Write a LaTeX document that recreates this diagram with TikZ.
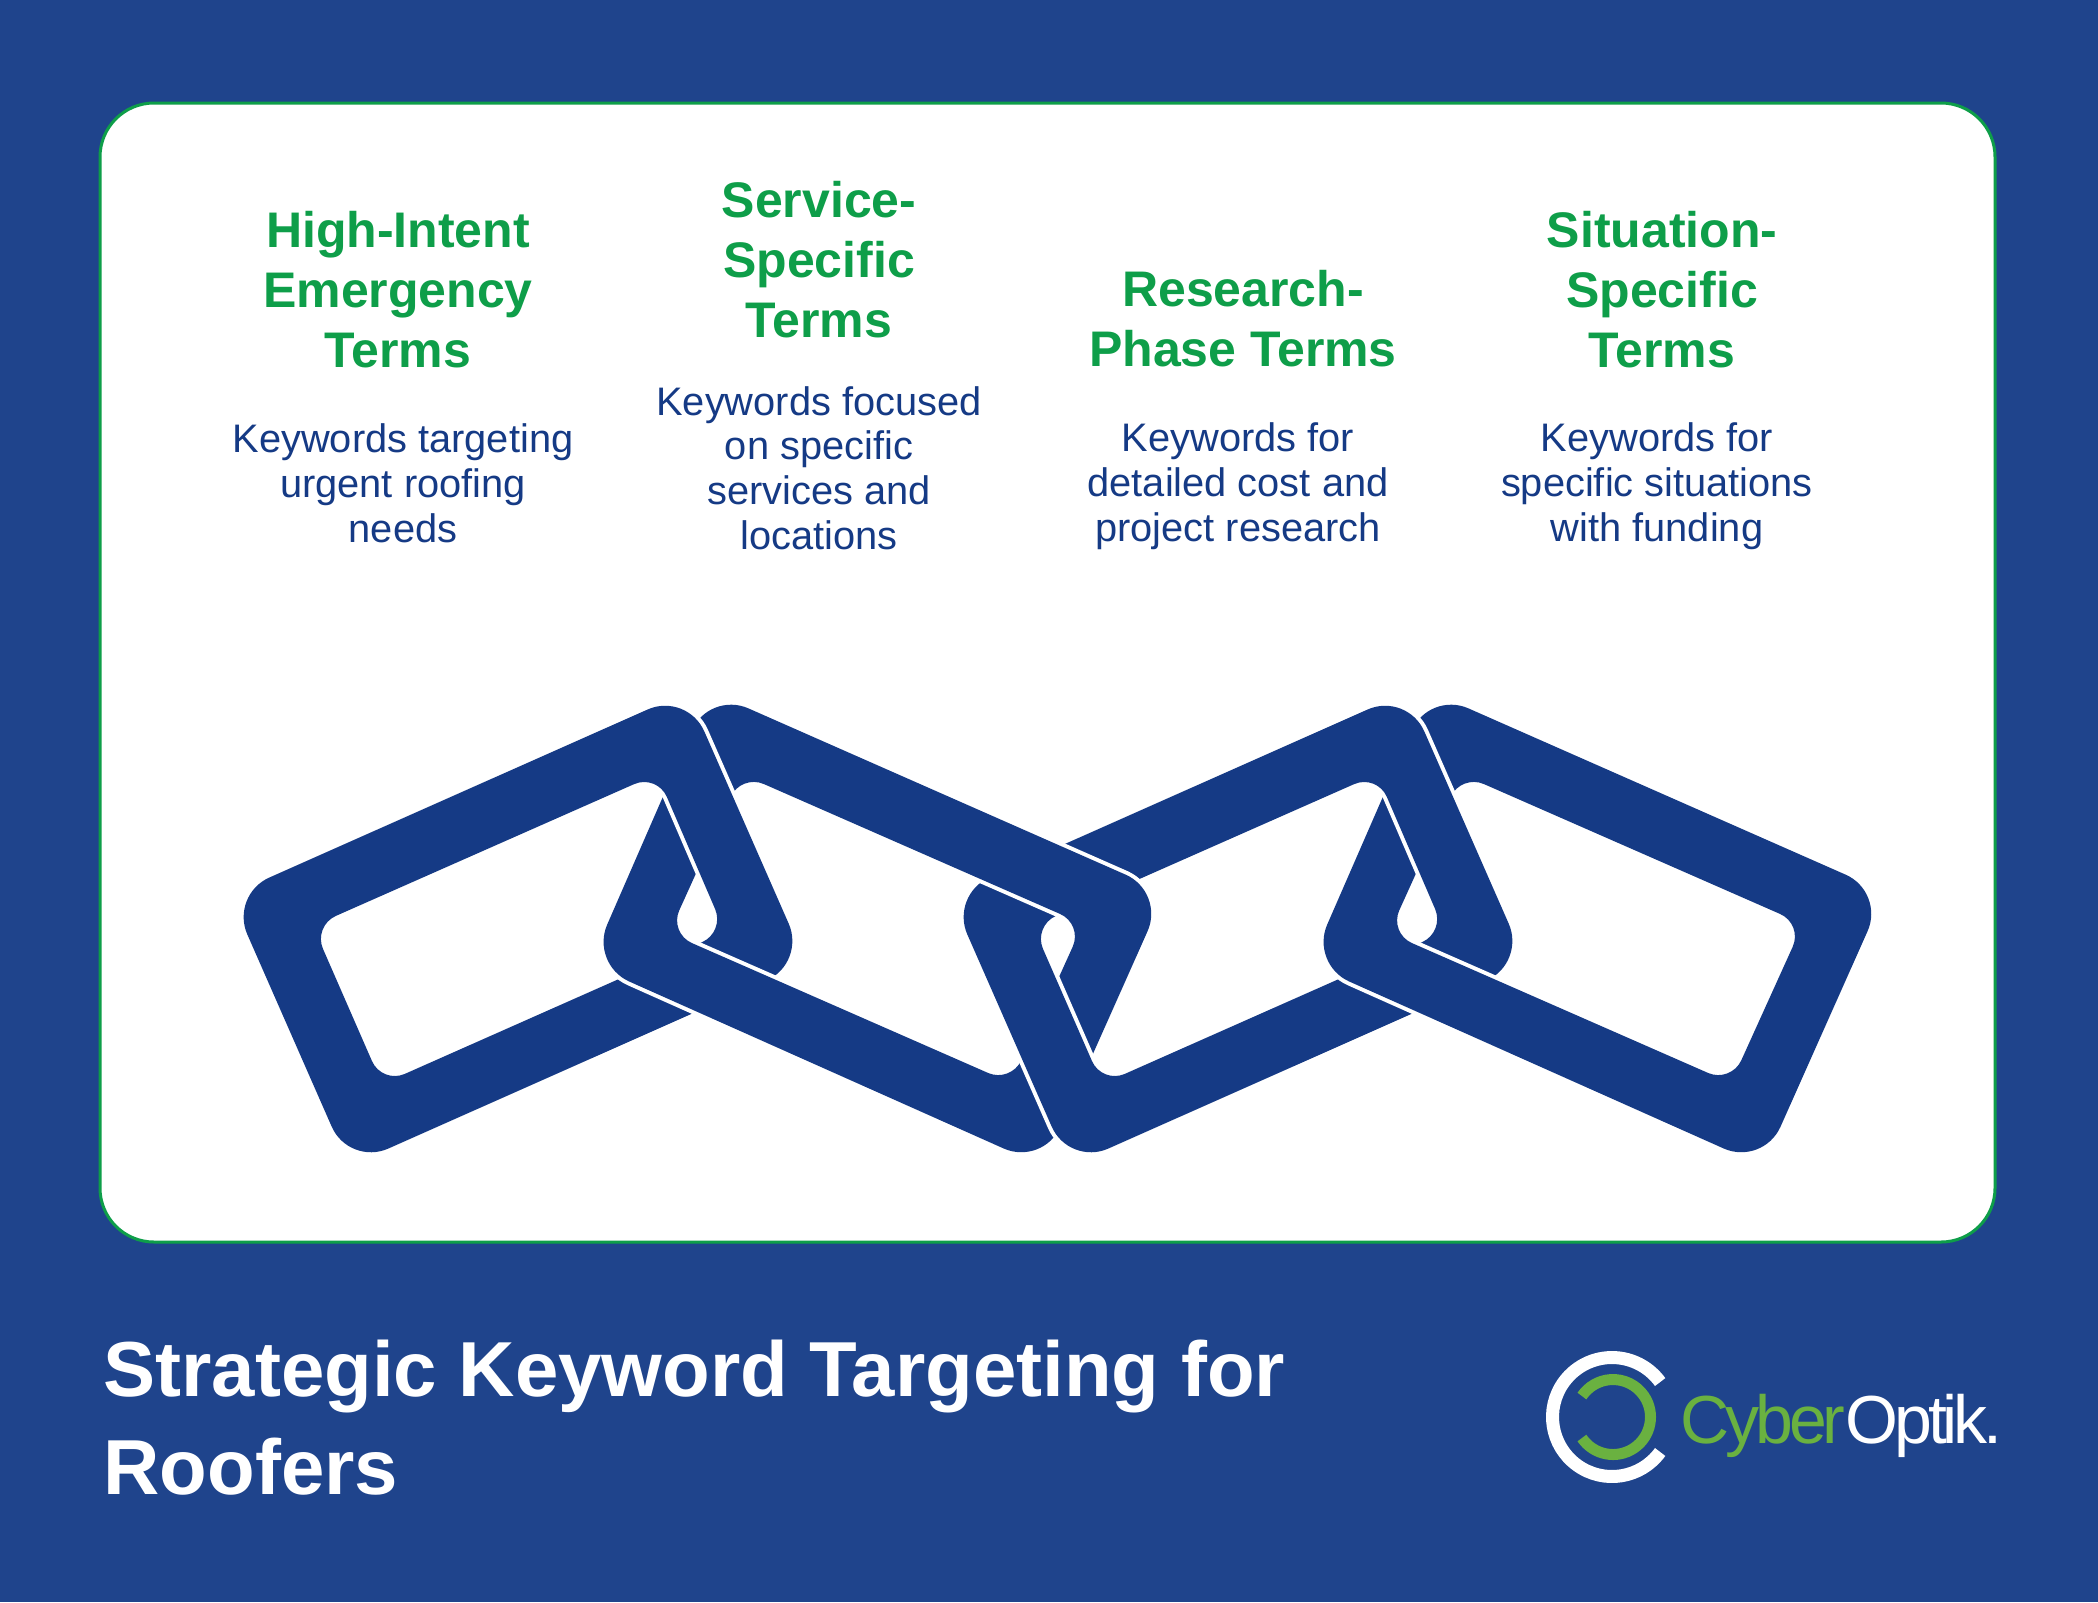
\documentclass[tikz,border=0pt]{standalone}
\usepackage{fontspec}
\setmainfont{Liberation Sans}
\newfontfamily\logofont[LetterSpace=-6]{Liberation Sans}
\definecolor{bluebg}{HTML}{1F448C}
\definecolor{chainblue}{HTML}{153A85}
\definecolor{headgreen}{HTML}{0E9E49}
\definecolor{logogreen}{HTML}{6AB140}
% the two kinds of link, outer edge then hole
\newcommand{\linkup}{[rounded corners=21.5pt] (230,895) -- (687,692) -- (806,963) -- (349,1166) -- cycle
	[rounded corners=12.5pt] (313,926) -- (657,774) -- (725,932) -- (382,1084) -- cycle}
\newcommand{\linkdown}{[rounded corners=21.5pt] (709,691) -- (1165,892) -- (1043,1166) -- (590,964) -- cycle
	[rounded corners=12.5pt] (741,774) -- (1083,924) -- (1011,1083) -- (669,933) -- cycle}

\begin{document}
\begin{tikzpicture}[x=0.5pt,y=-0.5pt]
	\tikzstyle{head}=[align=center,text=headgreen,font=\fontsize{25}{30}\selectfont\bfseries,inner sep=0pt]
	\tikzstyle{body}=[align=center,text=chainblue,font=\fontsize{19.9}{22.4}\selectfont,inner sep=0pt]
	\tikzstyle{chain}=[fill=chainblue,even odd rule]
	\tikzstyle{halo}=[chain,preaction={draw=white,line width=4pt}]

	\fill [bluebg] (0,0) rectangle (2098,1602);
	\useasboundingbox (0,0) rectangle (2098,1602);
	\draw [fill=white,draw=headgreen,line width=1.5pt,rounded corners=27pt] (100,103) rectangle (1995,1242);

	\node [head] (high)		at (398,290)	{High-Intent\\Emergency\\Terms};
	\node [head] (service)	at (819,260)	{Service-\\Specific\\Terms};
	\node [head] (research)	at (1243,319)	{Research-\\Phase Terms};
	\node [head] (situation)	at (1662,290)	{Situation-\\Specific\\Terms};

	\node [body] (highnote) [below of=high,node distance=96.5pt,xshift=2.5pt]			{Keywords targeting\\urgent roofing\\needs};
	\node [body] (servicenote) [below of=service,node distance=104pt]					{Keywords focused\\on specific\\services and\\locations};
	\node [body] (researchnote) [below of=research,node distance=83.5pt,xshift=-2.5pt]	{Keywords for\\detailed cost and\\project research};
	\node [body] (situationnote) [below of=situation,node distance=98pt,xshift=-2.5pt]	{Keywords for\\specific situations\\with funding};

	% each link lies over the next one only at its upper part
	\fill [chain] \linkup;
	\fill [halo] \linkdown;
	\begin{scope}
		\clip (640,680) rectangle (830,917);
		\fill [halo] \linkup;
	\end{scope}
	\begin{scope}[shift={(720,0)}]
		\fill [halo] \linkup;
	\end{scope}
	\begin{scope}
		\clip (950,680) rectangle (1190,945);
		\fill [halo] \linkdown;
	\end{scope}
	\begin{scope}[shift={(720,0)}]
		\fill [halo] \linkdown;
		\clip (640,680) rectangle (830,917);
		\fill [halo] \linkup;
	\end{scope}

	\node [anchor=west,align=left,text=white,inner sep=0pt,font=\fontsize{39}{49}\selectfont\bfseries] (title) at (103,1418)
		{Strategic Keyword Targeting for\\Roofers};

	\draw [white,line width=6.5pt] (1612,1417) ++(36:59.5) arc (36:324:59.5);
	\draw [logogreen,line width=5.5pt] (1613,1417) ++(146:37.5) arc (146:-146:37.5);
	\node [anchor=base west,inner sep=0pt,font=\logofont\fontsize{34}{40}\selectfont] (logo) at (1680,1443)
		{\textcolor{logogreen}{Cyber}\textcolor{white}{Optik.}};
\end{tikzpicture}
\end{document}
